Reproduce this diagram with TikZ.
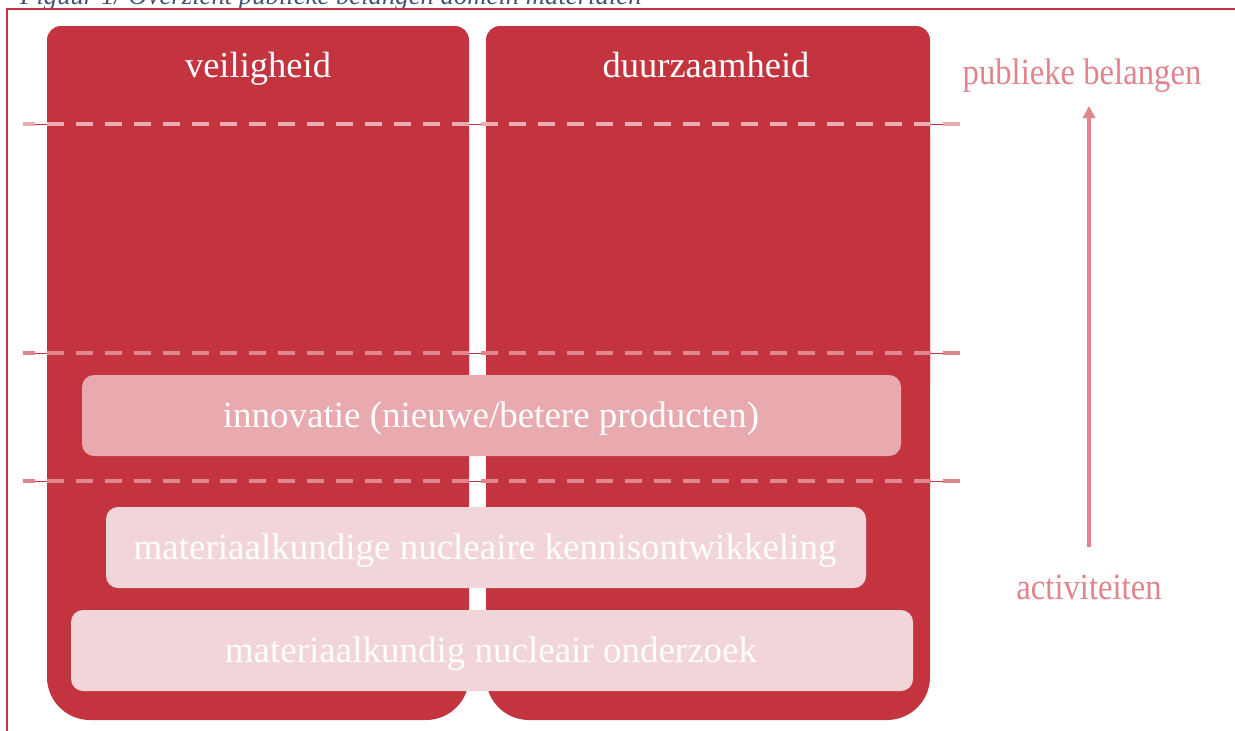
\documentclass[tikz,border=0pt]{standalone}
\usepackage{fontspec}
\setmainfont{Liberation Serif}
\usetikzlibrary{arrows.meta}
\definecolor{colred}{RGB}{195,52,63}
\definecolor{boxmid}{RGB}{232,170,175}
\definecolor{boxlight}{RGB}{242,213,216}
\definecolor{labpink}{RGB}{224,132,141}
\definecolor{dashtop}{RGB}{232,172,178}
\definecolor{dashmid}{RGB}{224,134,142}
\definecolor{capcol}{RGB}{68,84,106}
\tikzset{
  colfill/.style={fill=colred},
  hdr/.style={text=white, inner sep=0pt, anchor=base, font=\fontsize{36.5}{40}\selectfont},
  boxtxt/.style={text=white, inner sep=0pt, anchor=base, font=\fontsize{37}{40}\selectfont},
  sidelab/.style={text=labpink, inner sep=0pt, anchor=base, font=\fontsize{37}{40}\selectfont},
  thinline/.style={draw=colred, line width=1pt},
  dashseg/.style={line width=4pt},
  dashrun/.style={line width=4pt, dash pattern=on 17pt off 11.9pt},
  bar/.style={rounded corners=12pt, inner sep=0pt},
}
\begin{document}
\begin{tikzpicture}[x=1pt,y=-1pt]
\useasboundingbox (0,0) rectangle (1235,731);
\clip (0,0) rectangle (1235,731);
% caption (cut off at the top)
\node[anchor=base west, inner sep=0pt, text=capcol, font=\fontsize{26.7}{30}\selectfont\itshape] (caption) at (20,4.5) {Figuur 1/ Overzicht publieke belangen domein materialen};
% frame
\draw[colred, line width=2pt] (6.5,740) -- (6.5,8.5) -- (1240,8.5);
% columns
\fill[colfill, rounded corners=14pt] (47,26) rectangle (469,400);
\fill[colfill, rounded corners=43pt] (47,90) rectangle (469,720);
\fill[colfill, rounded corners=14pt] (486,26) rectangle (930,400);
\fill[colfill, rounded corners=43pt] (486,90) rectangle (930,720);
% dashed level lines
\foreach \yy/\cc in {124/dashtop, 353/dashmid, 481/dashmid}{
  \draw[thinline] (23,\yy) -- (960,\yy);
  \draw[dashseg, \cc] (23,\yy) -- (35,\yy);
  \draw[dashrun, \cc] (47,\yy) -- (931,\yy);
  \draw[dashseg, \cc] (943,\yy) -- (960,\yy);
}
% boxes
\fill[boxmid, rounded corners=12pt] (82,375) rectangle (901,456);
\fill[boxlight, rounded corners=12pt] (106,507) rectangle (866,588);
\fill[boxlight, rounded corners=12pt] (71,610) rectangle (913,691);
% texts
\node[hdr] (veil) at (258,77) {veiligheid};
\node[hdr] (duur) at (706,77) {duurzaamheid};
\node[boxtxt] (innov) at (491,427) {innovatie (nieuwe/betere producten)};
\node[boxtxt] (kennis) at (485,559) {materiaalkundige nucleaire kennisontwikkeling};
\node[boxtxt] (onderz) at (491,662) {materiaalkundig nucleair onderzoek};
\node[sidelab] (publiek) at (1082,84) {\scalebox{0.883}[1]{publieke belangen}};
\node[sidelab] (activ) at (1089,599) {\scalebox{0.883}[1]{activiteiten}};
% arrow
\coordinate (arrS) at (1089,547);
\coordinate (arrE) at (1089,106);
\draw[labpink, line width=4pt, -{Triangle[width=12pt,length=12pt]}] (arrS) -- (arrE);
\end{tikzpicture}
\end{document}
